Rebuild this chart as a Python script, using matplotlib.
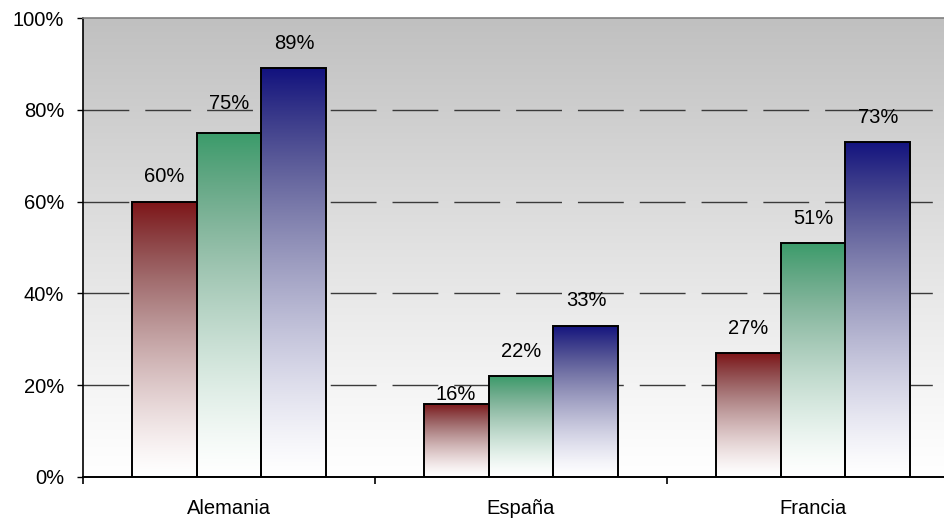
import numpy as np
import matplotlib
matplotlib.use("Agg")
import matplotlib.pyplot as plt
from matplotlib.colors import to_rgb

plt.rcParams['font.family'] = ['Liberation Sans', 'DejaVu Sans']

categories = ["Alemania", "España", "Francia"]
series_a = [60, 16, 27]
series_b = [75, 22, 51]
series_c = [89, 33, 73]
series_colors = ["#7e1417", "#3a9c6a", "#12127f"]
y_ticks = [0, 20, 40, 60, 80, 100]
y_tick_labels = ["0%", "20%", "40%", "60%", "80%", "100%"]
# label offsets (points above bar top), per series / category
label_offsets = [[11, 0, 11], [14, 11, 11], [11, 11, 11]]

W, H = 944, 518
fig = plt.figure(figsize=(W / 100, H / 100), dpi=100)
ax = fig.add_axes([83 / W, 41 / H, 876 / W, 459 / H])

# background gradient (gray top -> white bottom)
t = np.linspace(0, 1, 256).reshape(-1, 1)  # 0 bottom, 1 top
top_gray = np.array(to_rgb("#c0c0c0"))
bg = 1 - (1 - top_gray) * (t ** 1.1)[..., None]
bg = np.repeat(bg, 2, axis=1)
ax.imshow(bg, extent=[0, 1, 0, 1], origin='lower', aspect='auto',
          transform=ax.transAxes, zorder=0, interpolation='bilinear')

# gridlines
for v in y_ticks[1:-1]:
    ax.axhline(v, color="#3a3a3a", lw=1.0, ls=(0, (33, 11.5)), zorder=1)

bar_w = 0.2226
x = np.arange(len(categories))
all_series = [series_a, series_b, series_c]
for i, (vals, col) in enumerate(zip(all_series, series_colors)):
    offs = (i - 1) * bar_w
    rgb = np.array(to_rgb(col))
    for j, (xi, v) in enumerate(zip(x, vals)):
        bars = ax.bar(xi + offs, v, width=bar_w, facecolor='none',
                      edgecolor='black', lw=1.4, zorder=3)
        g = np.linspace(0, 1, 256).reshape(-1, 1)
        f = g ** 1.3
        img = 1 - (1 - rgb)[None, None, :] * f[..., None]
        # slight desaturation in the mid tones
        gray = img.mean(axis=2, keepdims=True)
        mix = (4 * f * (1 - f) * 0.25)[..., None]
        img = img * (1 - mix) + gray * mix
        img = np.repeat(img, 2, axis=1)
        im = ax.imshow(img, extent=[xi + offs - bar_w / 2, xi + offs + bar_w / 2, 0, v],
                       origin='lower', aspect='auto', zorder=2, interpolation='bilinear')
        im.set_clip_path(bars.patches[0])
        ax.annotate(f"{v}%", (xi + offs, v), xytext=(0, label_offsets[i][j]),
                    textcoords='offset points',
                    ha='center', va='bottom', fontsize=14.5, zorder=4)

ax.set_xlim(-0.5, len(categories) - 0.5)
ax.set_ylim(0, 100)
ax.set_yticks(y_ticks)
ax.set_yticklabels(y_tick_labels, fontsize=14.5)
ax.set_xticks(x)
ax.set_xticklabels(categories, fontsize=14.5)
ax.tick_params(axis='x', which='major', length=0, pad=16)
ax.set_xticks(np.arange(-0.5, len(categories), 1.0), minor=True)
ax.tick_params(axis='x', which='minor', length=5, width=1.2, direction='out', color='black')
ax.tick_params(axis='y', length=4.5, width=1.0, pad=9, direction='out')

ax.spines['left'].set_color('black')
ax.spines['left'].set_linewidth(1.2)
ax.spines['bottom'].set_color('black')
ax.spines['bottom'].set_linewidth(1.4)
ax.spines['top'].set_color('#808080')
ax.spines['top'].set_linewidth(1.2)
ax.spines['right'].set_visible(False)

fig.savefig("out.png", dpi=100)
